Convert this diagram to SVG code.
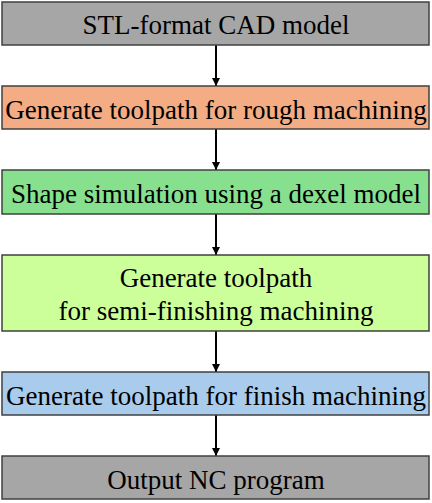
<svg xmlns="http://www.w3.org/2000/svg" width="432" height="503" viewBox="0 0 432 503">
<defs>
<marker id="ah" markerWidth="8" markerHeight="8" refX="8" refY="4" orient="auto" markerUnits="userSpaceOnUse">
<path d="M0,0 L8,4 L0,8 Z" fill="#000"/>
</marker>
</defs>
<style>
.box{stroke:#404040;stroke-width:1.5}
.t{font-family:"Liberation Serif","Times New Roman",serif;font-size:27px;fill:#000;text-anchor:middle}
.c{stroke:#000;stroke-width:2;fill:none}
</style>
<rect width="432" height="503" fill="#fff"/>
<g id="connectors">
<line class="c" x1="216" y1="45" x2="216" y2="86" marker-end="url(#ah)"/>
<line class="c" x1="216" y1="129" x2="216" y2="170" marker-end="url(#ah)"/>
<line class="c" x1="216" y1="214" x2="216" y2="255" marker-end="url(#ah)"/>
<line class="c" x1="216" y1="331" x2="216" y2="372" marker-end="url(#ah)"/>
<line class="c" x1="216" y1="415" x2="216" y2="456" marker-end="url(#ah)"/>
</g>
<g id="n1"><rect class="box" x="2" y="2" width="427" height="43" fill="#A6A6A6"/><text class="t" x="216" y="34">STL-format CAD model</text></g>
<g id="n2"><rect class="box" x="2" y="86" width="427" height="43" fill="#F4AC84"/><text class="t" x="216" y="119">Generate toolpath for rough machining</text></g>
<g id="n3"><rect class="box" x="2" y="170" width="427" height="44" fill="#86E08E"/><text class="t" x="216" y="203">Shape simulation using a dexel model</text></g>
<g id="n4"><rect class="box" x="2" y="255" width="427" height="76" fill="#CCFF99"/><text class="t" x="216" y="287">Generate toolpath</text><text class="t" x="216" y="320">for semi-finishing machining</text></g>
<g id="n5"><rect class="box" x="2" y="372" width="427" height="43" fill="#A9CBEC"/><text class="t" x="216" y="405">Generate toolpath for finish machining</text></g>
<g id="n6"><rect class="box" x="2" y="456" width="427" height="43" fill="#A6A6A6"/><text class="t" x="216" y="489">Output NC program</text></g>
</svg>
